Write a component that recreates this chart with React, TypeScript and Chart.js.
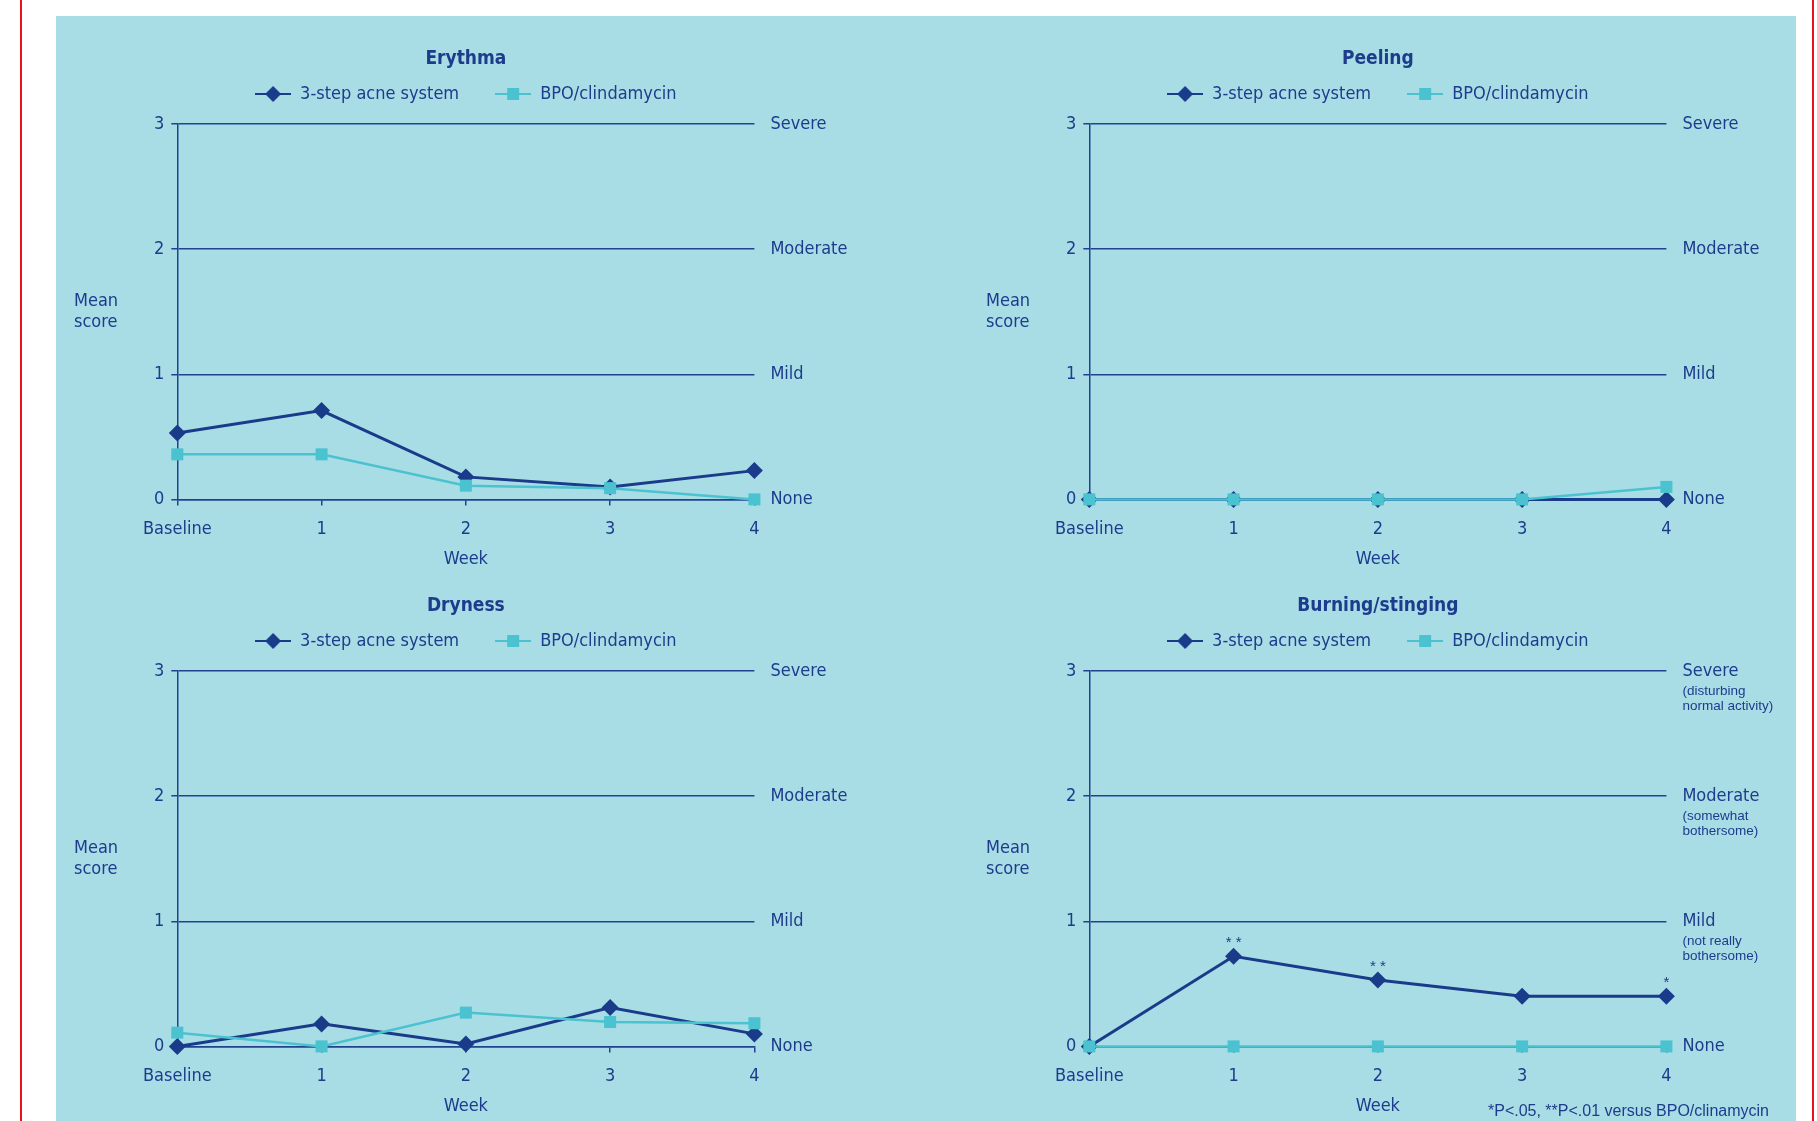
import React, { useEffect, useRef } from 'react';
import { Chart, registerables } from 'chart.js';

Chart.register(...registerables);

// ---------- data ----------
const WEEKS = ['Baseline', '1', '2', '3', '4'];
const SERIES_NAMES = ['3-step acne system', 'BPO/clindamycin'];
const SEVERITY_LABELS = ['None', 'Mild', 'Moderate', 'Severe'];
const BURNING_SUBLABELS = [[], ['(not really', 'bothersome)'], ['(somewhat', 'bothersome)'], ['(disturbing', 'normal activity)']];

const ERYTHMA_3STEP = [0.53, 0.71, 0.18, 0.1, 0.23];
const ERYTHMA_BPO = [0.36, 0.36, 0.11, 0.09, 0];
const PEELING_3STEP = [0, 0, 0, 0, 0];
const PEELING_BPO = [0, 0, 0, 0, 0.1];
const DRYNESS_3STEP = [0, 0.18, 0.02, 0.31, 0.1];
const DRYNESS_BPO = [0.11, 0, 0.27, 0.195, 0.185];
const BURNING_3STEP = [0, 0.72, 0.53, 0.4, 0.4];
const BURNING_BPO = [0, 0, 0, 0, 0];
const BURNING_SIGNIF = ['', '* *', '* *', '', '*'];
const FOOTNOTE = '*P<.05, **P<.01 versus BPO/clinamycin';

// ---------- style ----------
const NARROW = '"Liberation Sans Narrow", "Arial Narrow", "DejaVu Sans Condensed", sans-serif';
const REGULAR = '"Liberation Sans", Arial, sans-serif';
const TEXT = '#1d3c8c';
const NAVY = '#1a3a8a';
const CYAN = '#4bc2cf';
const BG = '#a9dde6';
const GRID = '#22428f';
const CW = 825;
const CH = 554;
const FS = 18;

function makeIcon(kind: 'diamond' | 'square', color: string) {
  const c = document.createElement('canvas');
  c.width = 36;
  c.height = 20;
  const g = c.getContext('2d')!;
  g.strokeStyle = color;
  g.fillStyle = color;
  g.lineWidth = 2;
  g.beginPath();
  g.moveTo(0, 10);
  g.lineTo(36, 10);
  g.stroke();
  g.beginPath();
  if (kind === 'diamond') {
    g.moveTo(18, 2);
    g.lineTo(26, 10);
    g.lineTo(18, 18);
    g.lineTo(10, 10);
    g.closePath();
  } else {
    g.rect(12, 4, 12, 12);
  }
  g.fill();
  return c;
}

type PanelProps = {
  left: number;
  top: number;
  title: string;
  a: number[];
  b: number[];
  sublabels?: string[][];
  signif?: string[];
  footnote?: string;
};

function Panel({ left, top, title, a, b, sublabels, signif, footnote }: PanelProps) {
  const ref = useRef<HTMLCanvasElement>(null);
  useEffect(() => {
    const icons = [makeIcon('diamond', NAVY), makeIcon('square', CYAN)];
    const font = { family: NARROW, size: FS, lineHeight: 1.2 };
    const notes = {
      id: 'notes',
      afterDraw(chart: any) {
        const { ctx, chartArea } = chart;
        ctx.save();
        ctx.fillStyle = TEXT;
        ctx.textBaseline = 'middle';
        ctx.textAlign = 'left';
        ctx.font = `${FS}px ${NARROW}`;
        const cy = (chartArea.top + chartArea.bottom) / 2;
        ctx.fillText('Mean', 18, cy - 10.5);
        ctx.fillText('score', 18, cy + 10.5);
        if (sublabels) {
          ctx.font = `13.5px ${REGULAR}`;
          sublabels.forEach((lines, lvl) => {
            const y = chart.scales.y.getPixelForValue(lvl);
            lines.forEach((t, j) => ctx.fillText(t, chartArea.right + 16, y + 20 + j * 15.5));
          });
        }
        if (signif) {
          ctx.font = `15px ${REGULAR}`;
          ctx.textAlign = 'center';
          const meta = chart.getDatasetMeta(0);
          meta.data.forEach((pt: any, i: number) => {
            if (signif[i]) ctx.fillText(signif[i], pt.x, pt.y - 13);
          });
        }
        if (footnote) {
          ctx.font = `16px ${REGULAR}`;
          ctx.textAlign = 'right';
          ctx.fillText(footnote, 801, 545);
        }
        ctx.restore();
      },
    };
    const chart = new Chart(ref.current!, {
      type: 'line',
      data: {
        labels: WEEKS,
        datasets: [
          {
            label: SERIES_NAMES[0],
            data: a,
            borderColor: NAVY,
            backgroundColor: NAVY,
            pointBackgroundColor: NAVY,
            borderWidth: 3,
            pointStyle: 'rectRot',
            pointRadius: 8.5,
            pointBorderWidth: 0,
            tension: 0,
            order: 1,
            clip: false as any,
            xAxisID: 'x',
            yAxisID: 'y',
          },
          {
            label: SERIES_NAMES[1],
            data: b,
            borderColor: CYAN,
            backgroundColor: CYAN,
            pointBackgroundColor: CYAN,
            borderWidth: 2.5,
            pointStyle: 'rect',
            pointRadius: 8.5,
            pointBorderWidth: 0,
            tension: 0,
            order: 0,
            clip: false as any,
            xAxisID: 'x',
            yAxisID: 'y',
          },
        ],
      },
      options: {
        responsive: false,
        maintainAspectRatio: false,
        animation: false,
        devicePixelRatio: 1,
        events: [],
        layout: { padding: 0 },
        plugins: {
          title: {
            display: true,
            text: title,
            color: TEXT,
            fullSize: false,
            font: { family: NARROW, size: 19, weight: 'bold', lineHeight: 1.2 },
            padding: { top: 28, bottom: -21.8 },
          },
          legend: {
            display: true,
            position: 'top',
            fullSize: false,
            labels: {
              usePointStyle: true,
              pointStyleWidth: 36,
              padding: 36,
              color: TEXT,
              font,
              generateLabels: (c: any) => {
                const items = (Chart.defaults.plugins.legend.labels as any).generateLabels(c);
                items.sort((p: any, q: any) => p.datasetIndex - q.datasetIndex);
                items.forEach((it: any) => {
                  it.pointStyle = icons[it.datasetIndex];
                });
                return items;
              },
            },
          },
          tooltip: { enabled: false },
        },
        scales: {
          x: {
            type: 'category',
            position: 'bottom',
            offset: false,
            grid: { display: true, drawOnChartArea: false, drawTicks: true, tickLength: 6, color: GRID, lineWidth: 1.5 },
            border: { display: true, color: GRID, width: 1.5 },
            ticks: { color: TEXT, font, padding: 12.8, autoSkip: false, maxRotation: 0 },
            title: { display: true, text: 'Week', color: TEXT, font, padding: { top: 0, bottom: 3.8 } },
            afterFit: (s: any) => {
              s.height = 74.6;
            },
          },
          xTop: {
            type: 'category',
            position: 'top',
            display: true,
            grid: { display: false, drawTicks: false },
            border: { display: false },
            ticks: { display: false },
            afterFit: (s: any) => {
              s.height = 11;
            },
          },
          y: {
            type: 'linear',
            position: 'left',
            min: 0,
            max: 3,
            ticks: { stepSize: 1, color: TEXT, font, padding: 7 },
            grid: { color: GRID, lineWidth: 1.5, tickLength: 6, drawTicks: true },
            border: { display: true, color: GRID, width: 1.5 },
            afterFit: (s: any) => {
              s.width = 121.3;
            },
          },
          y2: {
            type: 'linear',
            position: 'right',
            min: 0,
            max: 3,
            ticks: {
              stepSize: 1,
              color: TEXT,
              font,
              padding: 16,
              callback: (v: any) => SEVERITY_LABELS[Math.round(Number(v))],
            },
            grid: { display: false, drawTicks: false },
            border: { display: false },
            afterFit: (s: any) => {
              s.width = 126.6;
            },
          },
        },
      } as any,
      plugins: [notes],
    });
    return () => chart.destroy();
  }, []);
  return (
    <canvas
      ref={ref}
      width={CW}
      height={CH}
      style={{ position: 'absolute', left, top, width: CW, height: CH, display: 'block' }}
    />
  );
}

export default function App() {
  useEffect(() => {
    document.documentElement.style.overflow = 'hidden';
    document.body.style.margin = '0';
  }, []);
  return (
    <div style={{ position: 'absolute', left: 0, top: 0, width: 1817, height: 1121, background: '#ffffff', overflow: 'hidden' }}>
      <div style={{ position: 'absolute', left: 20, top: 0, width: 2, height: 1121, background: '#e8141c' }} />
      <div style={{ position: 'absolute', left: 1812, top: 0, width: 2, height: 1121, background: '#e8141c' }} />
      <div style={{ position: 'absolute', left: 56, top: 16, width: 1740, height: 1105, background: BG }} />
      <Panel left={56} top={20} title="Erythma" a={ERYTHMA_3STEP} b={ERYTHMA_BPO} />
      <Panel left={968} top={20} title="Peeling" a={PEELING_3STEP} b={PEELING_BPO} />
      <Panel left={56} top={567} title="Dryness" a={DRYNESS_3STEP} b={DRYNESS_BPO} />
      <Panel
        left={968}
        top={567}
        title="Burning/stinging"
        a={BURNING_3STEP}
        b={BURNING_BPO}
        sublabels={BURNING_SUBLABELS}
        signif={BURNING_SIGNIF}
        footnote={FOOTNOTE}
      />
    </div>
  );
}
